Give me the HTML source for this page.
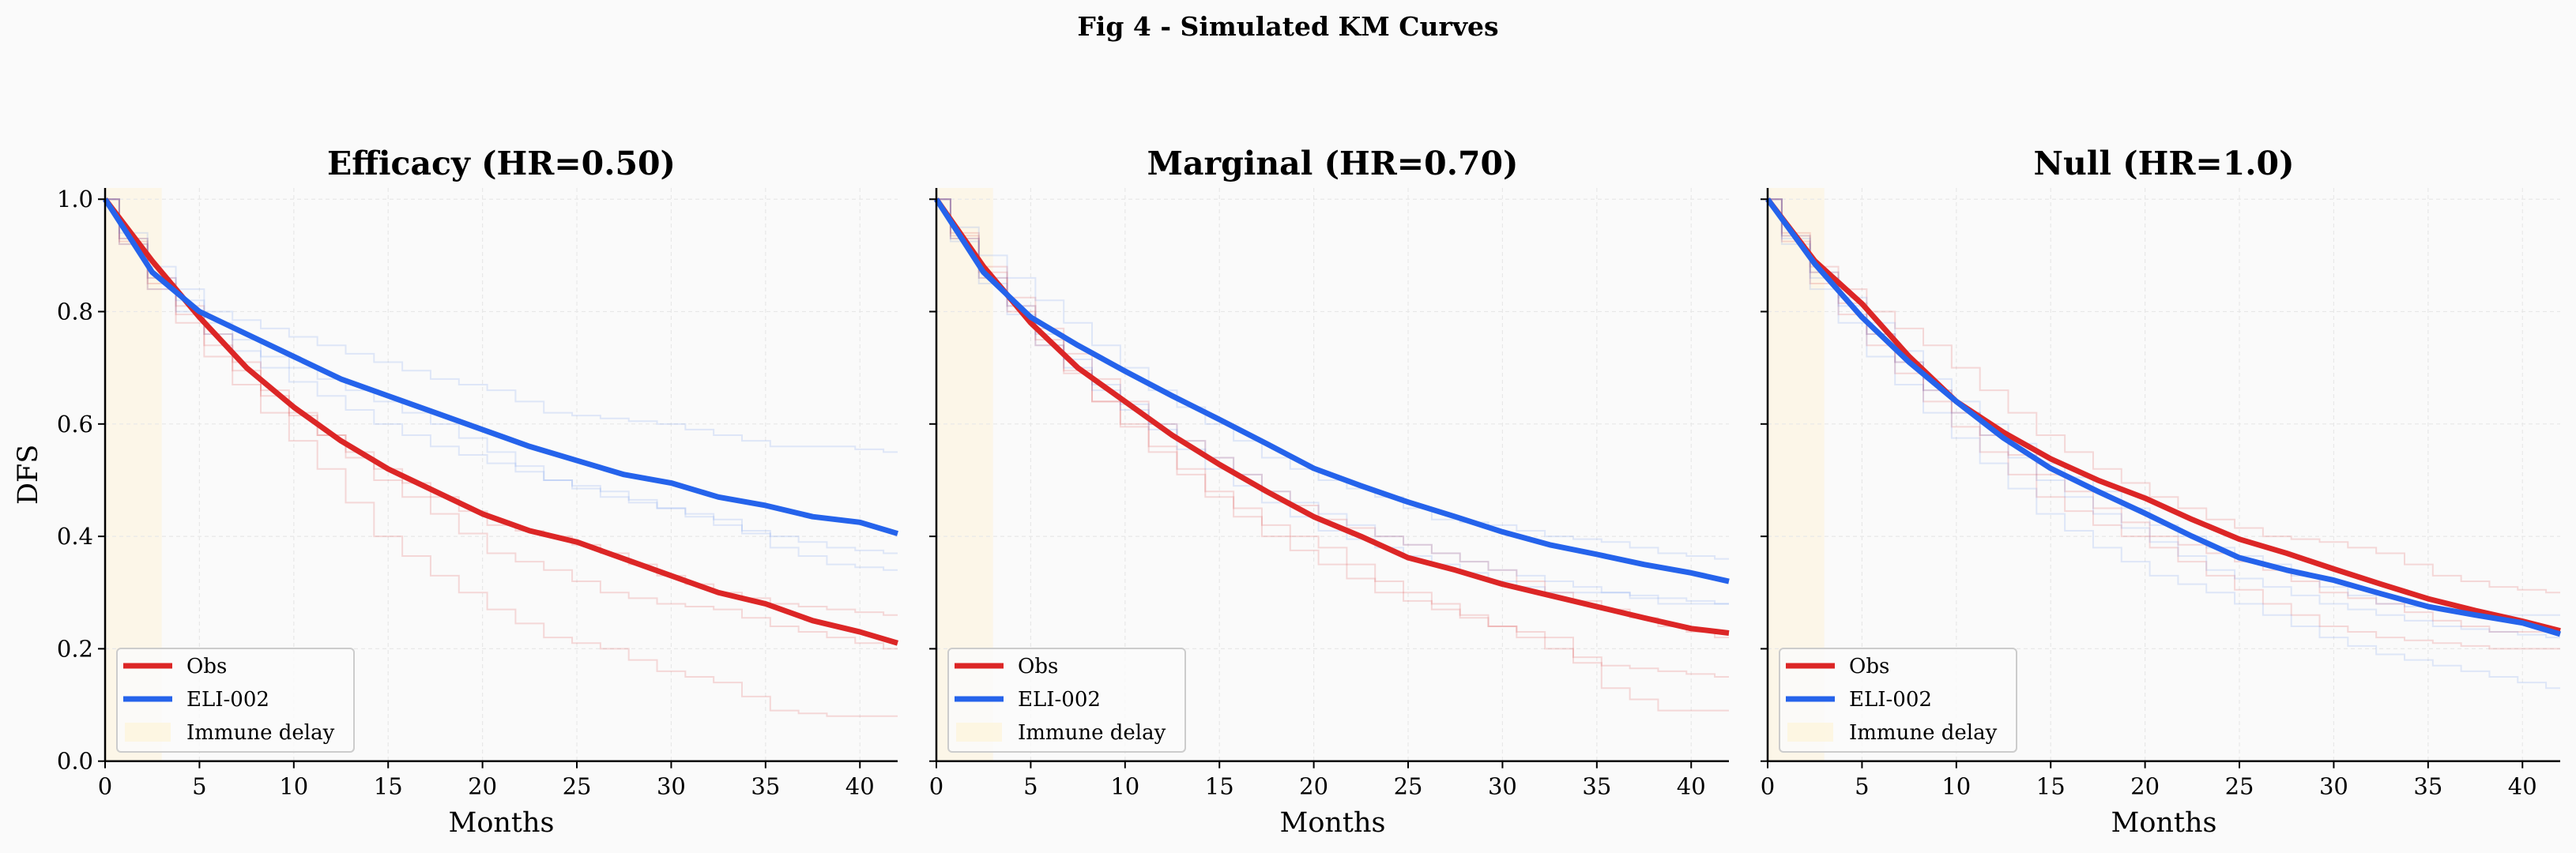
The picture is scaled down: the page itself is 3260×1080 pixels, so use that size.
<!DOCTYPE html>
<html><head><meta charset="utf-8"><style>
html,body{margin:0;padding:0;background:#fafafa;}
svg{display:block;font-family:"DejaVu Serif","Liberation Serif",serif;}
</style></head><body>
<svg id="fig" width="3260" height="1080" viewBox="0 0 3260 1080" xmlns="http://www.w3.org/2000/svg">
<rect width="3260" height="1080" fill="#fafafa"/>
<text x="1630" y="45" text-anchor="middle" font-size="33" font-weight="bold">Fig 4 - Simulated KM Curves</text>
</svg>
<script>
const panelTitles = ["Efficacy (HR=0.50)", "Marginal (HR=0.70)", "Null (HR=1.0)"];
const mainMonths = [0, 2.5, 5, 7.5, 10, 12.5, 15, 17.5, 20, 22.5, 25, 27.5, 30, 32.5, 35, 37.5, 40, 42];
const obsMain = [
  [1, 0.89, 0.79, 0.70, 0.63, 0.57, 0.52, 0.48, 0.44, 0.41, 0.39, 0.36, 0.33, 0.30, 0.28, 0.25, 0.23, 0.21],
  [1, 0.88, 0.78, 0.70, 0.64, 0.58, 0.528, 0.48, 0.435, 0.40, 0.362, 0.34, 0.315, 0.295, 0.275, 0.255, 0.236, 0.228],
  [1, 0.89, 0.814, 0.72, 0.64, 0.585, 0.538, 0.50, 0.468, 0.43, 0.395, 0.37, 0.342, 0.315, 0.289, 0.268, 0.249, 0.232]
];
const eliMain = [
  [1, 0.87, 0.80, 0.76, 0.72, 0.68, 0.65, 0.62, 0.59, 0.56, 0.535, 0.51, 0.495, 0.47, 0.455, 0.435, 0.425, 0.405],
  [1, 0.87, 0.79, 0.74, 0.694, 0.65, 0.608, 0.565, 0.521, 0.49, 0.461, 0.435, 0.408, 0.385, 0.368, 0.35, 0.335, 0.32],
  [1, 0.885, 0.79, 0.71, 0.64, 0.575, 0.521, 0.48, 0.441, 0.40, 0.362, 0.34, 0.322, 0.298, 0.275, 0.26, 0.246, 0.226]
];
const repMonths = [0, 3, 6, 9, 12, 15, 18, 21, 24, 27, 30, 33, 36, 39, 42];
const obsReps = [
  [[1,.84,.72,.62,.52,.40,.33,.27,.22,.20,.16,.14,.09,.08,.08],[1,.86,.76,.66,.58,.50,.44,.37,.34,.30,.28,.27,.24,.22,.20],[1,.85,.74,.65,.58,.52,.47,.42,.40,.37,.33,.30,.28,.27,.26]],
  [[1,.86,.74,.64,.56,.48,.42,.38,.32,.28,.24,.20,.17,.16,.15],[1,.88,.77,.68,.60,.54,.48,.43,.40,.37,.34,.30,.27,.24,.22],[1,.87,.75,.64,.55,.47,.40,.35,.30,.27,.24,.22,.13,.09,.09]],
  [[1,.88,.80,.74,.66,.58,.52,.47,.43,.40,.39,.37,.33,.31,.30],[1,.85,.74,.64,.55,.47,.42,.38,.33,.28,.24,.22,.21,.20,.20],[1,.87,.76,.66,.58,.51,.45,.40,.37,.34,.30,.28,.25,.23,.23]]
];
const eliReps = [
  [[1,.88,.80,.77,.74,.71,.68,.66,.62,.61,.60,.58,.56,.56,.55],[1,.84,.76,.70,.65,.60,.56,.53,.50,.47,.45,.42,.40,.38,.37],[1,.86,.78,.72,.68,.64,.60,.55,.50,.48,.45,.43,.38,.35,.34]],
  [[1,.90,.82,.74,.66,.60,.54,.50,.47,.43,.42,.40,.39,.37,.36],[1,.86,.76,.67,.60,.54,.48,.44,.40,.37,.34,.32,.30,.28,.28],[1,.85,.74,.66,.59,.52,.46,.41,.38,.35,.32,.30,.30,.29,.28]],
  [[1,.84,.72,.62,.53,.44,.38,.33,.30,.26,.22,.19,.17,.15,.13],[1,.86,.76,.66,.58,.50,.44,.39,.34,.31,.28,.26,.24,.23,.22],[1,.87,.78,.68,.60,.53,.48,.42,.38,.35,.31,.28,.27,.26,.26]]
];
const xTicks = [0, 5, 10, 15, 20, 25, 30, 35, 40];
const yTicks = [0, 0.2, 0.4, 0.6, 0.8, 1.0];
const delayEnd = 3;

const NS = "http://www.w3.org/2000/svg";
const svg = document.getElementById("fig");
const panelX0 = [133, 1185, 2237];
const plotW = 1003, yTop = 238, yBase = 963.7, xMax = 42, yMax = 1.02;
const RED = "#dc2626", BLUE = "#2563eb";
function mk(tag, attrs, parent) {
  const e = document.createElementNS(NS, tag);
  for (const k in attrs) e.setAttribute(k, attrs[k]);
  (parent || svg).appendChild(e);
  return e;
}
panelTitles.forEach((title, p) => {
  const x0 = panelX0[p];
  const sx = m => x0 + m / xMax * plotW;
  const sy = v => yBase - v / yMax * (yBase - yTop);
  const g = mk("g", {});
  
  
  const band = mk("rect", {x: sx(0), y: yTop, width: sx(delayEnd) - sx(0), height: yBase - yTop, fill: "#fdf3d8", opacity: 0.55}, g);
  
  
  xTicks.forEach(t => {
    const l = mk("line", {x1: sx(t), x2: sx(t), y1: yTop, y2: yBase, stroke: "#e8e8e8", "stroke-width": 1.2, "stroke-dasharray": "5 4"}, g);
    
    
  });
  yTicks.forEach(t => {
    const l = mk("line", {x1: x0, x2: x0 + plotW, y1: sy(t), y2: sy(t), stroke: "#e8e8e8", "stroke-width": 1.2, "stroke-dasharray": "5 4"}, g);
    
    
  });
  function stepPath(vals) {
    let d = "M" + sx(repMonths[0]) + "," + sy(vals[0]);
    for (let i = 1; i < repMonths.length; i++) {
      const mid = (repMonths[i - 1] + repMonths[i]) / 2;
      const vm = (vals[i - 1] + vals[i]) / 2;
      d += "H" + sx(repMonths[i - 1] + (mid - repMonths[i - 1]) * 0.5) + "V" + sy(vm) + "H" + sx(mid + (repMonths[i] - mid) * 0.5) + "V" + sy(vals[i]);
    }
    d += "H" + sx(xMax);
    return d;
  }
  obsReps[p].forEach(r => {
    const e = mk("path", {d: stepPath(r), fill: "none", stroke: RED, "stroke-opacity": 0.16, "stroke-width": 2}, g);
    
    
  });
  eliReps[p].forEach(r => {
    const e = mk("path", {d: stepPath(r), fill: "none", stroke: BLUE, "stroke-opacity": 0.13, "stroke-width": 2}, g);
    
    
  });
  function line(vals) { return vals.map((v, i) => sx(mainMonths[i]) + "," + sy(v)).join(" "); }
  const ob = mk("polyline", {points: line(obsMain[p]), fill: "none", stroke: RED, "stroke-width": 7, "stroke-linejoin": "round"}, g);
  
  
  const el = mk("polyline", {points: line(eliMain[p]), fill: "none", stroke: BLUE, "stroke-width": 7, "stroke-linejoin": "round"}, g);
  
  
  const ls = mk("line", {x1: x0, x2: x0, y1: yTop, y2: yBase, stroke: "#000", "stroke-width": 2.5}, g);
  
  
  const bs = mk("line", {x1: x0, x2: x0 + plotW, y1: yBase, y2: yBase, stroke: "#000", "stroke-width": 2.5}, g);
  
  
  xTicks.forEach(t => {
    mk("line", {x1: sx(t), x2: sx(t), y1: yBase, y2: yBase + 9, stroke: "#000", "stroke-width": 2}, g);
    const tx = mk("text", {x: sx(t), y: yBase + 42, "text-anchor": "middle", "font-size": 29}, g);
    tx.textContent = t;
    
    
  });
  yTicks.forEach(t => {
    mk("line", {x1: x0 - 9, x2: x0, y1: sy(t), y2: sy(t), stroke: "#000", "stroke-width": 2}, g);
    if (p === 0) {
      const tx = mk("text", {x: x0 - 15, y: sy(t) + 10, "text-anchor": "end", "font-size": 29}, g);
      tx.textContent = t.toFixed(1);
      
      
    }
  });
  const xl = mk("text", {x: x0 + plotW / 2, y: 1053, "text-anchor": "middle", "font-size": 35}, g);
  xl.textContent = "Months";
  
  
  if (p === 0) {
    const yl = mk("text", {x: 0, y: 0, "text-anchor": "middle", "font-size": 35, transform: "translate(47," + (yTop + yBase) / 2 + ") rotate(-90)"}, g);
    yl.textContent = "DFS";
    
    
  }
  const tt = mk("text", {x: x0 + plotW / 2, y: 221, "text-anchor": "middle", "font-size": 41, "font-weight": "bold"}, g);
  tt.textContent = title;
  
  
  const lg = mk("g", {}, g);
  
  
  const lx = x0 + 15, ly = 821;
  mk("rect", {x: lx, y: ly, width: 300, height: 131, rx: 5, fill: "#fafafa", "fill-opacity": 0.85, stroke: "#cccccc", "stroke-width": 2}, lg);
  const entries = [["Obs", RED], ["ELI-002", BLUE], ["Immune delay", null]];
  entries.forEach((en, i) => {
    const cy = ly + 22 + i * 42;
    const eg = mk("g", {}, lg);
    
    
    if (en[1]) mk("line", {x1: lx + 8, x2: lx + 70, y1: cy, y2: cy, stroke: en[1], "stroke-width": 7}, eg);
    else mk("rect", {x: lx + 10, y: cy - 12, width: 58, height: 24, fill: "#fdf3d8", opacity: 0.7}, eg);
    const t = mk("text", {x: lx + 88, y: cy + 9, "font-size": 26}, eg);
    t.textContent = en[0];
  });
});
</script>
</body></html>
